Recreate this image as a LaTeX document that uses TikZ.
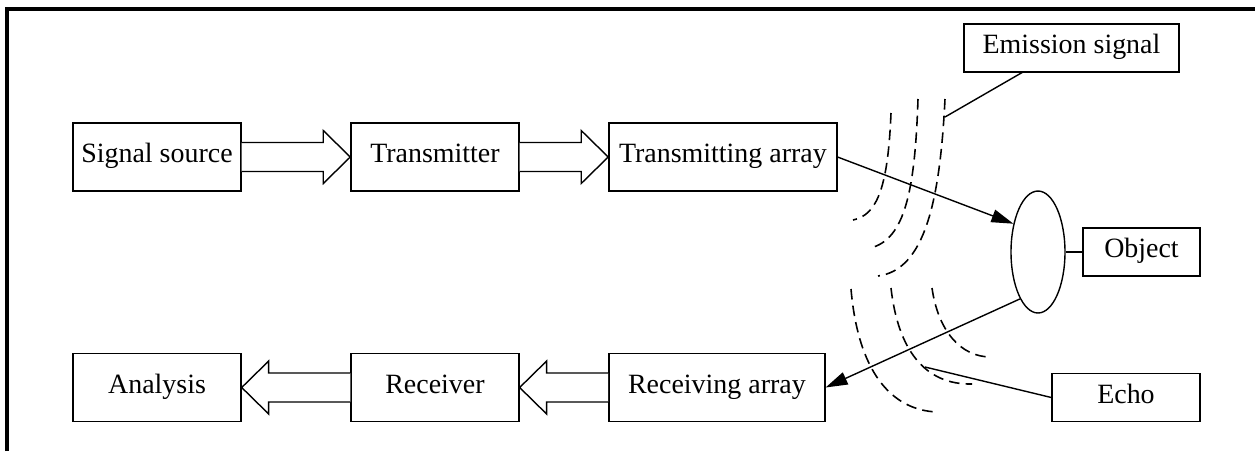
\documentclass[tikz,border=0pt]{standalone}
\usepackage{fontspec}
\setmainfont{Liberation Serif}
\usepackage{tikz}
\usetikzlibrary{shapes.geometric, arrows.meta, calc}
\tikzstyle{block} = [
    rectangle,
    minimum width=3.36cm,
    minimum height=1.36cm,
    text centered,
    text height=0.7em,
    text depth=0.04em,
    draw=black,
    line width=0.8pt,
    font=\fontsize{15.9}{19}\selectfont
]
\tikzstyle{label} = [
    block,
    minimum height=0.96cm
]
\tikzstyle{target} = [
    ellipse,
    minimum width=1.08cm,
    minimum height=2.44cm,
    draw=black,
    line width=0.8pt
]
\tikzstyle{fat} = [
    draw=black,
    fill=white,
    line width=0.8pt,
    line join=miter
]
\tikzstyle{arrow} = [
    line width=0.8pt,
    -{Triangle[length=0.44cm, width=0.26cm]}
]
\tikzstyle{wave} = [
    line width=0.9pt,
    dash pattern=on 6pt off 3.5pt
]
\tikzstyle{frame} = [
    line width=1.8pt
]
% hollow arrows between two boxes
\newcommand{\fatright}[2]{%
    \draw[fat] ($(#1.east)+(0,-14.5)$) -- ($(#2.west)+(-27,-14.5)$) -- ($(#2.west)+(-27,-26.5)$)
        -- (#2.west) -- ($(#2.west)+(-27,26.5)$) -- ($(#2.west)+(-27,14.5)$) -- ($(#1.east)+(0,14.5)$);}
\newcommand{\fatleft}[2]{%
    \draw[fat] ($(#1.west)+(0,-14.5)$) -- ($(#2.east)+(27,-14.5)$) -- ($(#2.east)+(27,-26.5)$)
        -- (#2.east) -- ($(#2.east)+(27,26.5)$) -- ($(#2.east)+(27,14.5)$) -- ($(#1.west)+(0,14.5)$);}

\begin{document}
\begin{tikzpicture}[x=0.02cm, y=-0.02cm, node distance=5.56cm]

    \useasboundingbox (0,0) rectangle (1255,451);
    \draw[frame] (7,451) -- (7,9) -- (1255,9);

    \node (src)      [block]                                                  at (157,157)   {Signal source};
    \node (tx)       [block, right of=src]                                                   {Transmitter};
    \node (txarr)    [block, right of=tx, xshift=0.2cm, minimum width=4.56cm]                {Transmitting array};

    \node (ana)      [block]                                                  at (157,387.5) {Analysis};
    \node (rx)       [block, right of=ana]                                                   {Receiver};
    \node (rxarr)    [block, right of=rx, xshift=0.08cm, minimum width=4.32cm]               {Receiving array};

    \node (target)   [target]                                                 at (1038,252)  {};
    \node (obj)      [label, minimum width=2.34cm]                            at (1141.5,252) {Object};
    \node (emis)     [label, minimum width=4.3cm]                             at (1071.5,48) {Emission signal};
    \node (echo)     [label, minimum width=2.96cm]                            at (1126,397.5) {Echo};

    \coordinate (emisfoot) at (1023,72);
    \coordinate (emisend)  at (945,117);
    \coordinate (echoend)  at (925,367);

    \fatright{src}{tx}
    \fatright{tx}{txarr}
    \fatleft{rxarr}{rx}
    \fatleft{rx}{ana}

    % emitted waves
    \draw[wave] (891,113) .. controls (888,185) and (878,215) .. (853,220);
    \draw[wave] (918,99)  .. controls (915,190) and (905,240) .. (870,248);
    \draw[wave] (945,99)  .. controls (940,200) and (925,270) .. (878,276);
    % echo waves
    \draw[wave] (851,289) .. controls (858,370) and (890,410) .. (937,412);
    \draw[wave] (891,288) .. controls (898,350) and (925,385) .. (972,384);
    \draw[wave] (932,288) .. controls (938,330) and (960,357) .. (991,357);

    \draw [arrow] (txarr.east)     --     (target.131);
    \draw [arrow] (target.249)     --     (rxarr.east);
    \draw [line width=0.8pt] (target.east) -- (obj.west);
    \draw [line width=0.8pt] (emisfoot)    -- (emisend);
    \draw [line width=0.8pt] (echo.west)   -- (echoend);

\end{tikzpicture}
\end{document}
